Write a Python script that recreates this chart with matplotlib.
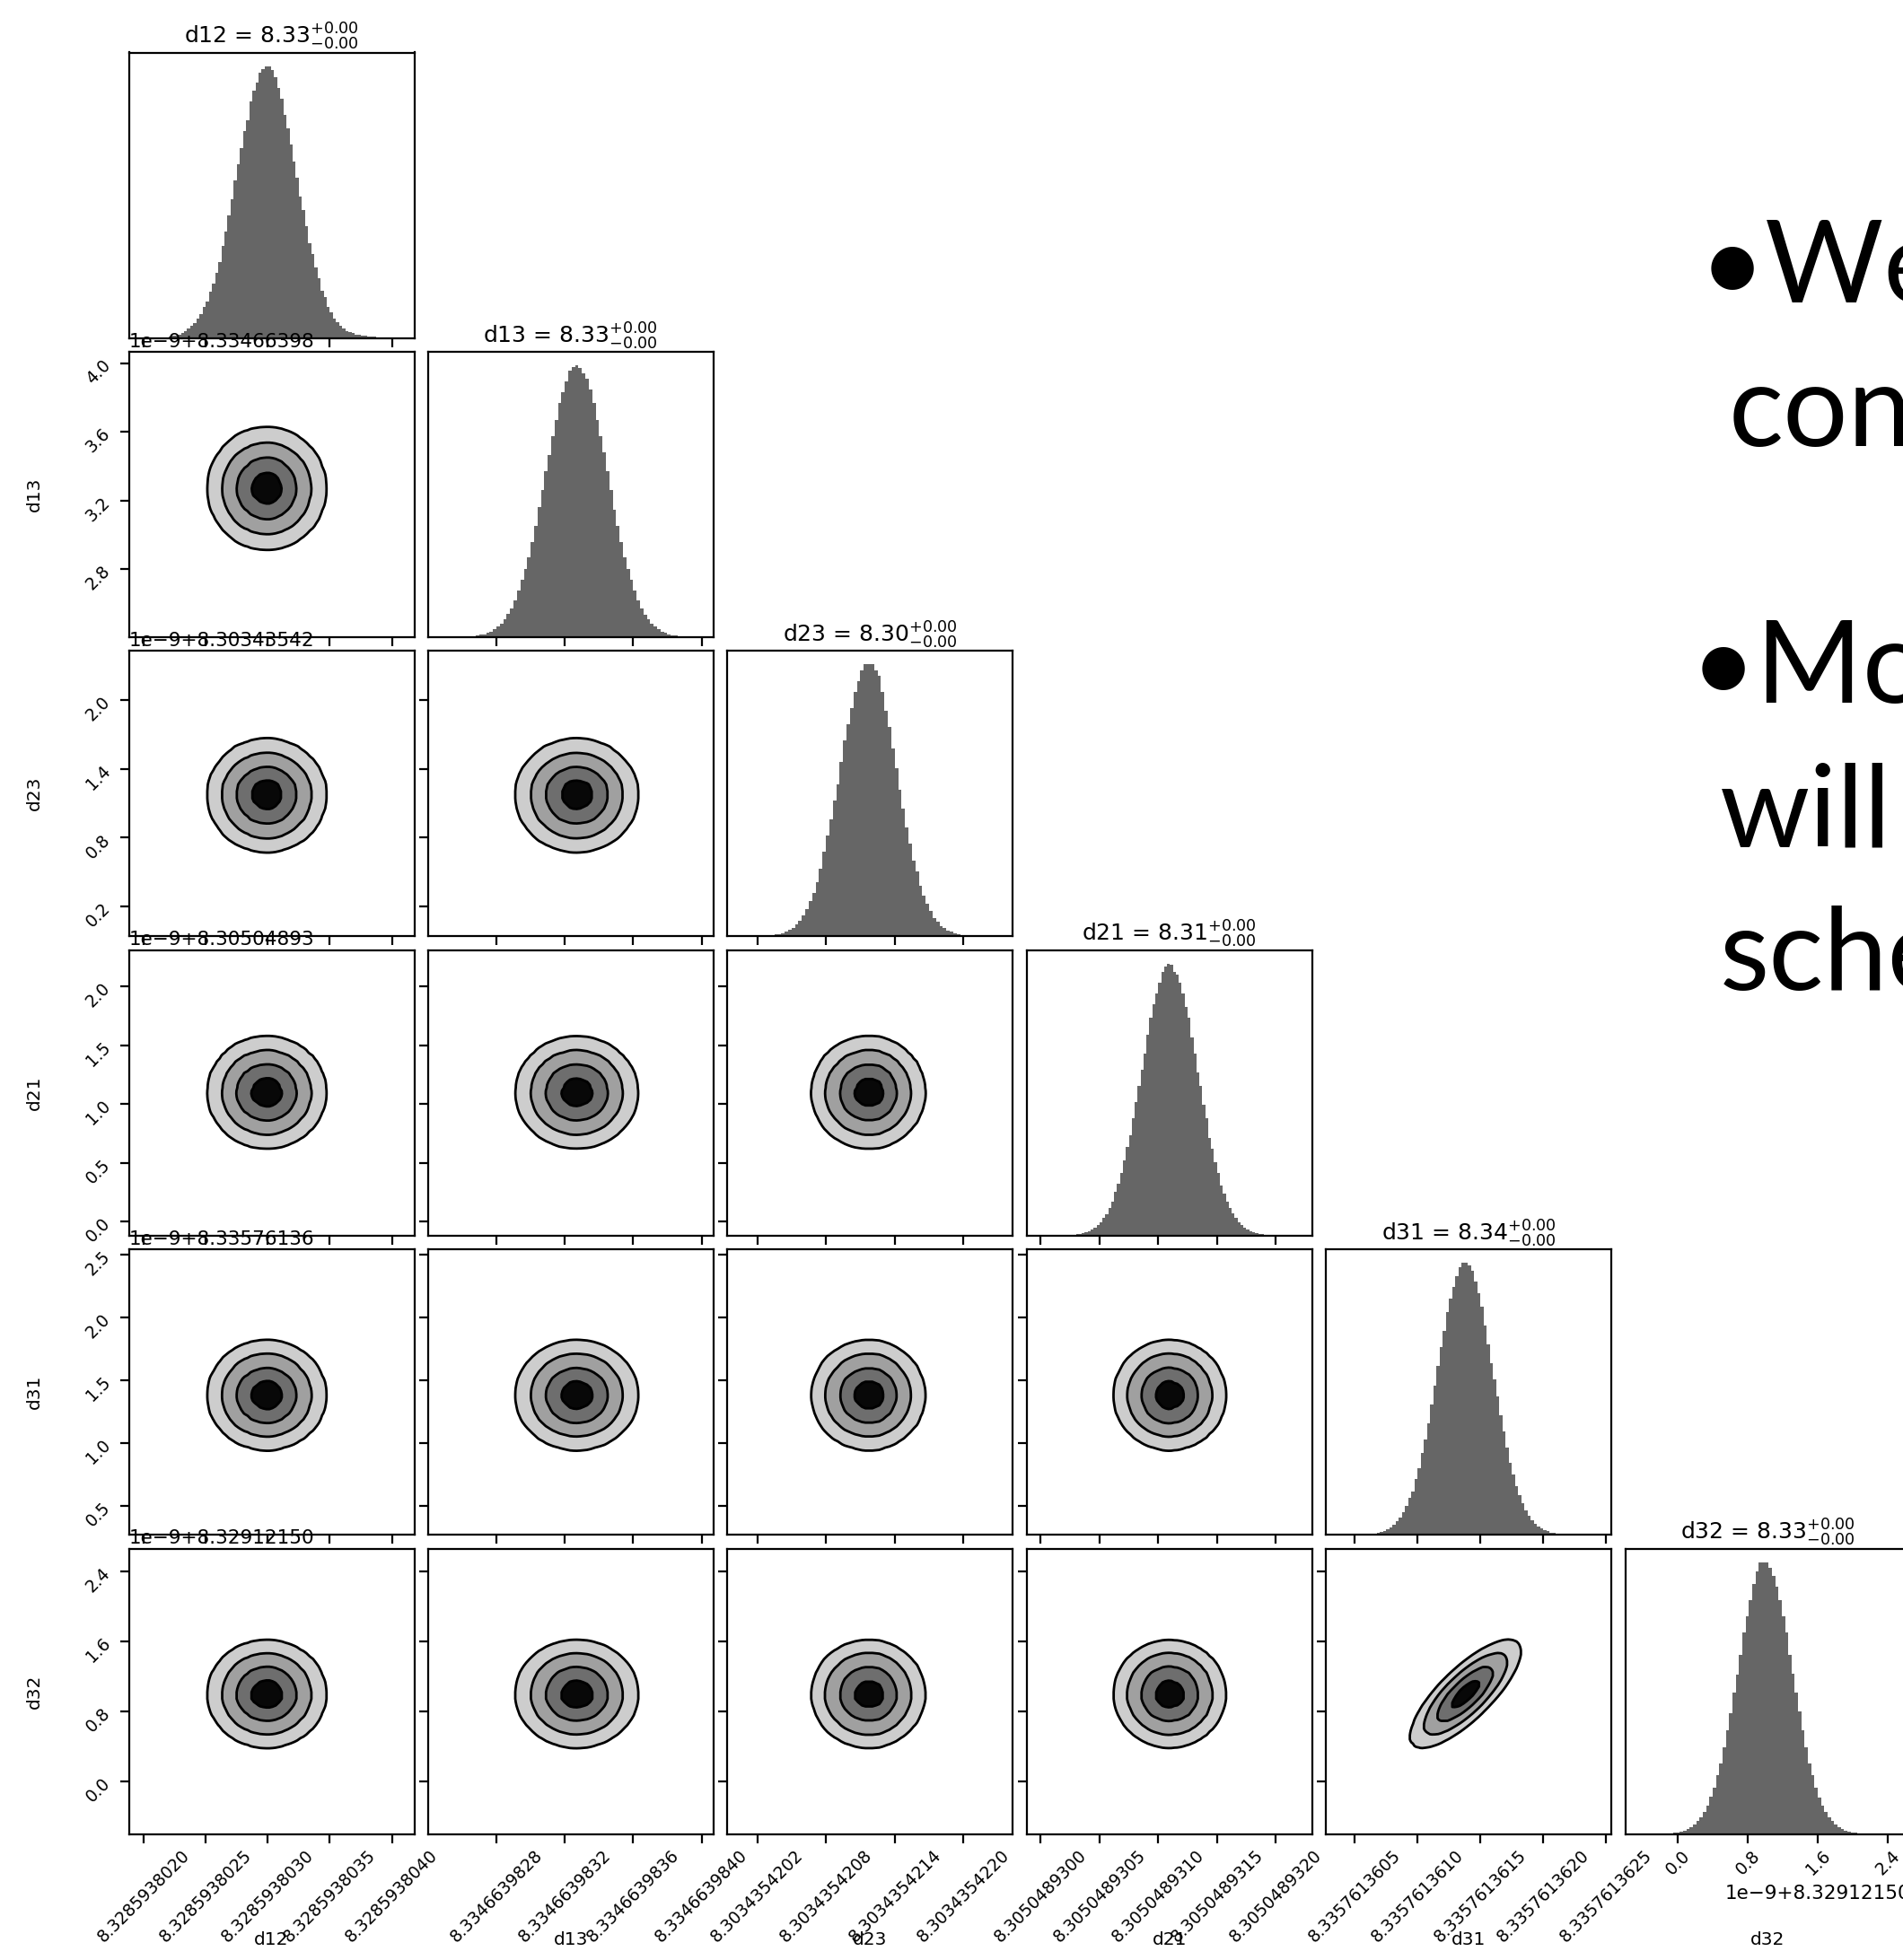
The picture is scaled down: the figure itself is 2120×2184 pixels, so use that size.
import matplotlib
matplotlib.use('Agg')
import matplotlib.pyplot as plt
import numpy as np

plt.rcParams['axes.linewidth'] = 1.6
plt.rcParams['font.family'] = 'DejaVu Sans'

names = ['d12', 'd13', 'd23', 'd21', 'd31', 'd32']
medians = ['8.33', '8.33', '8.30', '8.31', '8.34', '8.33']
bases = ['8.32859380', '8.33466398', '8.30343542', '8.30504893', '8.33576136', '8.32912150']

# everything below is in units of 1e-9 above the base value
lims = [(1.88, 4.18), (2.40, 4.07), (-0.06, 2.43), (-0.12, 2.31), (0.27, 2.54), (-0.60, 2.66)]
ticks = [[2.0, 2.5, 3.0, 3.5, 4.0],
         [2.8, 3.2, 3.6, 4.0],
         [0.2, 0.8, 1.4, 2.0],
         [0.0, 0.5, 1.0, 1.5, 2.0],
         [0.5, 1.0, 1.5, 2.0, 2.5],
         [0.0, 0.8, 1.6, 2.4]]

# marginal histograms: (first edge, last edge) and bin heights
spans = [(2.20, 3.95), (2.60, 3.92), (0.20, 2.12), (0.25, 2.05), (0.55, 2.15), (-0.05, 2.125)]
h_d12 = [0.5, 0.7, 0.9, 1.2, 1.7, 2.4, 3.4, 4.6, 5.4, 7.2, 8.8, 11.5, 13.5, 17, 20, 24,
         28, 34, 39, 45, 51, 58, 64, 70, 76, 80, 87, 91, 94, 97.5, 99, 100, 100, 98.5,
         96, 92, 88, 82, 77, 71, 65, 59, 52, 47, 41, 35, 31, 26, 22, 17.5, 15, 11.5,
         9.5, 7, 5.8, 4.3, 3.4, 2.6, 2.2, 1.7, 1.3, 1.0, 0.9, 0.7, 0.55, 0.45, 0.35,
         0.25, 0.2, 0.15]
h_d13 = [0.15, 0.2, 0.25, 0.35, 0.55, 0.8, 1.1, 1.5, 2.1, 2.9, 3.8, 5.0, 6.5, 8.5, 10.5,
         13.5, 17, 21, 25, 29.5, 35, 41, 48, 54, 61, 67, 74, 80, 86, 90, 94, 98, 99.5,
         100, 99, 97, 95, 91, 86, 80, 74, 68, 61, 54, 47, 41, 35, 29.5, 25, 21, 17,
         13.5, 10.5, 8.3, 6.5, 5.0, 3.8, 2.8, 2.1, 1.5, 1.1, 0.75, 0.55, 0.4, 0.25, 0.15]
h_d23 = [0.08, 0.12, 0.17, 0.25, 0.4, 0.6, 0.85, 1.2, 1.7, 2.4, 3.2, 4.4, 5.8, 7.8, 10, 13,
         16, 20, 25, 31, 37, 43, 50, 56, 64, 72, 78, 84, 90, 94, 98, 100, 100, 100, 98,
         96, 90, 83, 77, 69, 62, 54, 47, 40, 34, 28, 24, 18.5, 15, 12, 9.5, 6.8, 5.5,
         3.8, 3.0, 2.1, 1.6, 1.0, 0.75, 0.5, 0.35, 0.25, 0.12, 0.08]
h_d21 = [0.25, 0.35, 0.45, 0.6, 0.85, 1.2, 1.6, 2.2, 2.9, 3.9, 4.9, 6.5, 7.9, 10.2, 12.5,
         16, 19, 23, 27.5, 32.5, 37, 43, 49, 55, 61, 67, 74, 80, 85, 89, 93, 97, 99, 100,
         99.5, 97, 96, 93, 89, 84, 80, 73, 67, 60, 55, 48, 43, 36, 32, 27, 23, 18.5,
         15.5, 12.5, 10, 8, 6.4, 4.9, 3.9, 2.9, 2.2, 1.6, 1.2, 0.85, 0.6, 0.42, 0.33,
         0.25, 0.17, 0.12, 0.11, 0.08]
h_d31 = [0.08, 0.15, 0.22, 0.35, 0.5, 0.75, 1.0, 1.45, 1.9, 2.8, 3.6, 4.9, 6.2, 8.3, 10.5,
         13.5, 16, 20.5, 24.5, 30, 35, 41, 48, 55, 62, 69, 75, 82, 87, 91, 95, 98.5, 100,
         100, 99, 97, 93, 89, 84, 77, 70, 63, 57, 51, 44, 38, 32, 26.5, 22, 18, 14.5,
         11.5, 9, 7, 5.3, 4.0, 3.0, 2.2, 1.6, 1.2, 0.8, 0.6, 0.35, 0.25]
h_d32 = [0.4, 0.6, 0.85, 1.2, 1.7, 2.5, 3.4, 4.7, 6.0, 8.2, 10.5, 13.8, 17, 21.5, 26, 32,
         38, 44.5, 52, 58.5, 66, 74, 80, 86, 92, 96.5, 100, 100, 100, 98, 95, 91, 86, 80,
         74, 66, 59, 52, 45, 38, 32, 26, 21.5, 17, 13.5, 10.5, 8.2, 6.0, 4.7, 3.4, 2.5,
         1.7, 1.2, 0.85, 0.6, 0.4, 0.25, 0.15]
hists = [h_d12, h_d13, h_d23, h_d21, h_d31, h_d32]

# only d31 / d32 show a correlation
rho = {(5, 4): 0.78}

W, H = 2120, 2184
x0, y0, step, size = 143.5, 58.5, 333.4, 318


def box(i, j):
    return [(x0 + step * j) / W, 1 - (y0 + step * i + size) / H, size / W, size / H]


def edges(k):
    return np.linspace(spans[k][0], spans[k][1], len(hists[k]) + 1)


def centers(k):
    e = edges(k)
    return 0.5 * (e[1:] + e[:-1])


def stats(k):
    c, h = centers(k), np.array(hists[k], float)
    m = np.sum(c * h) / h.sum()
    return m, np.sqrt(np.sum(h * (c - m) ** 2) / h.sum())


fills = ['#cdcdcd', '#a0a0a0', '#6e6e6e', '#080808']
mass = 1 - np.exp(-0.5 * np.array([2.0, 1.5, 1.0, 0.5]) ** 2)

fig = plt.figure(figsize=(W / 100, H / 100), dpi=100)
n = len(names)
for i in range(n):
    for j in range(i + 1):
        ax = fig.add_axes(box(i, j))
        ax.set_xlim(lims[j])
        ax.set_xticks(ticks[j])
        ax.tick_params(direction='out', length=7, width=1.6, labelsize=13.5)
        if i == j:
            h = np.array(hists[j], float)
            ax.stairs(h, edges(j), fill=True, color='#666666', linewidth=0)
            ax.set_ylim(0, 1.05 * h.max())
            ax.set_yticks([])
            ax.set_title('%s = $%s_{-0.00}^{+0.00}$' % (names[j], medians[j]), fontsize=18, pad=7)
        else:
            X, Y = np.meshgrid(centers(j), centers(i))
            Z = np.outer(hists[i], hists[j]).astype(float)
            r = rho.get((i, j), 0.0)
            mx, sx = stats(j)
            my, sy = stats(i)
            Y = my + np.sqrt(1 - r * r) * (Y - my) + r * sy / sx * (X - mx)
            zs = np.sort(Z.ravel())[::-1]
            cs = np.cumsum(zs) / zs.sum()
            V = [zs[np.searchsorted(cs, m)] for m in mass]
            ax.contourf(X, Y, Z, levels=V + [Z.max() * 1.01], colors=fills)
            ax.contour(X, Y, Z, levels=V, colors='k', linewidths=2.0)
            ax.set_ylim(lims[i])
            ax.set_yticks(ticks[i])
            if j == 0:
                ax.set_yticklabels(['%.1f' % v for v in ticks[i]])
                ax.tick_params(axis='y', labelrotation=45, pad=5)
                ax.set_ylabel(names[i], fontsize=14.5)
                ax.yaxis.set_label_coords(-0.3, 0.5)
                ax.text(0, 1.004, '1e\u22129+' + bases[i], transform=ax.transAxes,
                        ha='left', va='bottom', fontsize=15.5)
            else:
                ax.set_yticklabels([])
        if i == n - 1:
            if j < n - 1:
                labs = ['%.10f' % (float(bases[j]) + v * 1e-9) for v in ticks[j]]
            else:
                labs = ['%.1f' % v for v in ticks[j]]
                ax.text(1.0, -0.21, '1e\u22129+' + bases[j], transform=ax.transAxes,
                        ha='right', va='center', fontsize=15.5)
            ax.set_xticklabels(labs)
            ax.tick_params(axis='x', labelrotation=45)
            ax.set_xlabel(names[j], fontsize=14.5)
            ax.xaxis.set_label_coords(0.5, -0.34)
        else:
            ax.set_xticklabels([])

# slide text next to the corner plot
slide = dict(fontsize=92, family='Lato', va='baseline', ha='left')
fig.text(1893 / W, 1 - 337 / H, '\u2022We', **slide)
fig.text(1926 / W, 1 - 497 / H, 'con', **slide)
fig.text(1883 / W, 1 - 783 / H, '\u2022Mo', **slide)
fig.text(1916 / W, 1 - 943 / H, 'will', **slide)
fig.text(1916 / W, 1 - 1103 / H, 'sche', **slide)

plt.savefig('out.png', dpi=100)
